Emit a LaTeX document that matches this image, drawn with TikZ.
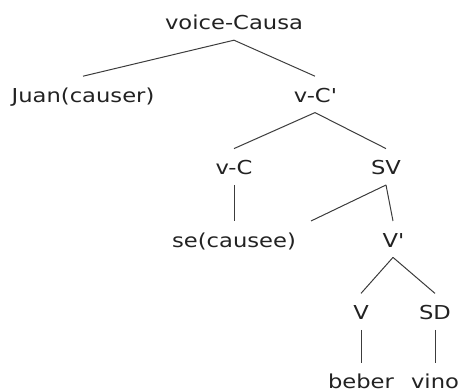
\documentclass[tikz,border=0pt]{standalone}
\usepackage{fontspec}
\setmainfont{DejaVu Sans}[FakeStretch=1.18]
\usepackage{tikz}
\usetikzlibrary{positioning}
\definecolor{TreeInk}{HTML}{222222}
\definecolor{TreeEdge}{HTML}{3C3C3C}
\tikzset{
  cat/.style={inner xsep=0pt,inner ysep=10pt,text height=16pt,text depth=0pt,
    text=TreeInk,font=\fontsize{19.2}{23}\selectfont},
  branch/.style={draw=TreeEdge,line width=1pt}
}
% straight prime for bar levels
\newcommand{\barlevel}{\textquotesingle}

\begin{document}
\begin{tikzpicture}[x=1pt,y=1pt,node distance=36pt]
  \useasboundingbox (0,0) rectangle (458,390);

  \node[cat,anchor=base] (root) at (234,360) {voice-Causa};
  \node[cat,below=of root,xshift=-151pt] (juan) {Juan(causer)};
  \node[cat,below=of root,xshift=81pt] (vcbar) {v-C\barlevel};
  \draw[branch] (root.south) -- (juan.north);
  \draw[branch] (root.south) -- (vcbar.north);

  \node[cat,below=of vcbar,xshift=-81pt] (vc) {v-C};
  \node[cat,below=of vcbar,xshift=71pt] (sv) {SV};
  \draw[branch] (vcbar.south) -- (vc.north);
  \draw[branch] (vcbar.south) -- (sv.north);

  \node[cat,below=of vc] (se) {se(causee)};
  \node[cat,below=of sv,xshift=7pt] (vbar) {V\barlevel};
  \coordinate (sespec) at ([xshift=77pt]se.north);
  \draw[branch] (vc.south) -- (se.north);
  \draw[branch] (sv.south) -- (sespec);
  \draw[branch] (sv.south) -- (vbar.north);

  \node[cat,below=of vbar,xshift=-32pt] (v) {V};
  \node[cat,below=of vbar,xshift=42pt] (sd) {SD};
  \draw[branch] (vbar.south) -- (v.north);
  \draw[branch] (vbar.south) -- (sd.north);

  \node[cat,below=33pt of v] (beber) {beber};
  \node[cat,below=33pt of sd] (vino) {vino};
  \draw[branch] (v.south) -- (beber.north);
  \draw[branch] (sd.south) -- (vino.north);
\end{tikzpicture}
\end{document}
